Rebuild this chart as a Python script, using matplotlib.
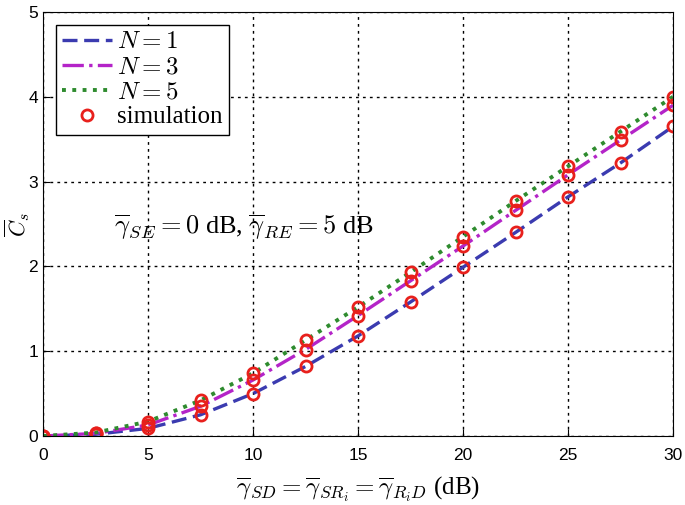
import matplotlib as mpl
import matplotlib.pyplot as plt

# average SNR (dB) and secrecy capacity
snr_db = [0, 2.5, 5, 7.5, 10, 12.5, 15, 17.5, 20, 22.5, 25, 27.5, 30]
cs_n1 = [0.0, 0.02, 0.09, 0.25, 0.50, 0.82, 1.18, 1.58, 1.99, 2.40, 2.82, 3.22, 3.65]
cs_n3 = [0.0, 0.03, 0.13, 0.35, 0.66, 1.02, 1.42, 1.83, 2.24, 2.66, 3.08, 3.49, 3.90]
cs_n5 = [0.0, 0.04, 0.17, 0.42, 0.74, 1.13, 1.52, 1.93, 2.35, 2.77, 3.18, 3.59, 4.00]
labels = ['$N = 1$', '$N = 3$', '$N = 5$']

mpl.rcParams.update({
    'font.family': ['Liberation Sans', 'DejaVu Sans'],
    'mathtext.fontset': 'cm',
    'font.size': 12,
})

dpi = 100
fig = plt.figure(dpi=dpi, figsize=(685 / dpi, 505 / dpi))
ax = fig.add_axes([43 / 685, 69 / 505, 630 / 685, 424 / 505])

ax.plot(snr_db, cs_n1, '--', color='#3b3bb0', lw=2.4, dashes=(4.5, 2), label=labels[0])
ax.plot(snr_db, cs_n3, '-.', color='#b424c8', lw=2.4, label=labels[1])
ax.plot(snr_db, cs_n5, ':', color='#2e8b2e', lw=2.8, label=labels[2])
for ys in (cs_n1, cs_n3, cs_n5):
    ax.plot(snr_db, ys, 'o', mfc='none', mec='#e8201c', mew=2, ms=8,
            label='simulation' if ys is cs_n1 else None)

ax.set_xlim(0, 30)
ax.set_ylim(0, 5)
ax.set_xticks(range(0, 31, 5))
ax.set_yticks(range(0, 6))
ax.tick_params(direction='in', length=5, labelsize=12.5)
ax.tick_params(axis='x', pad=9)
ax.grid(True, color='black', linestyle=(0, (2, 3)), lw=1)

ax.set_xlabel(r'$\overline{\gamma}_{SD} = \overline{\gamma}_{SR_i} = \overline{\gamma}_{R_iD}$ (dB)',
              family='Liberation Serif', fontsize=18, labelpad=8)
ax.set_ylabel(r'$\overline{C}_s$', fontsize=16)
ax.yaxis.set_label_coords(-0.017, 0.5)

ax.text(3.4, 2.46, r'$\overline{\gamma}_{SE} = 0$ dB, $\overline{\gamma}_{RE} = 5$ dB',
        family='Liberation Serif', fontsize=19, va='center')

leg = ax.legend(loc='upper left', fancybox=False, edgecolor='black',
                prop={'family': 'Liberation Serif', 'size': 18},
                handlelength=2.0, handletextpad=0.2, borderpad=0.25,
                labelspacing=0.1, framealpha=1, borderaxespad=0.5)
leg.get_frame().set_linewidth(1)

fig.savefig('out.png')
